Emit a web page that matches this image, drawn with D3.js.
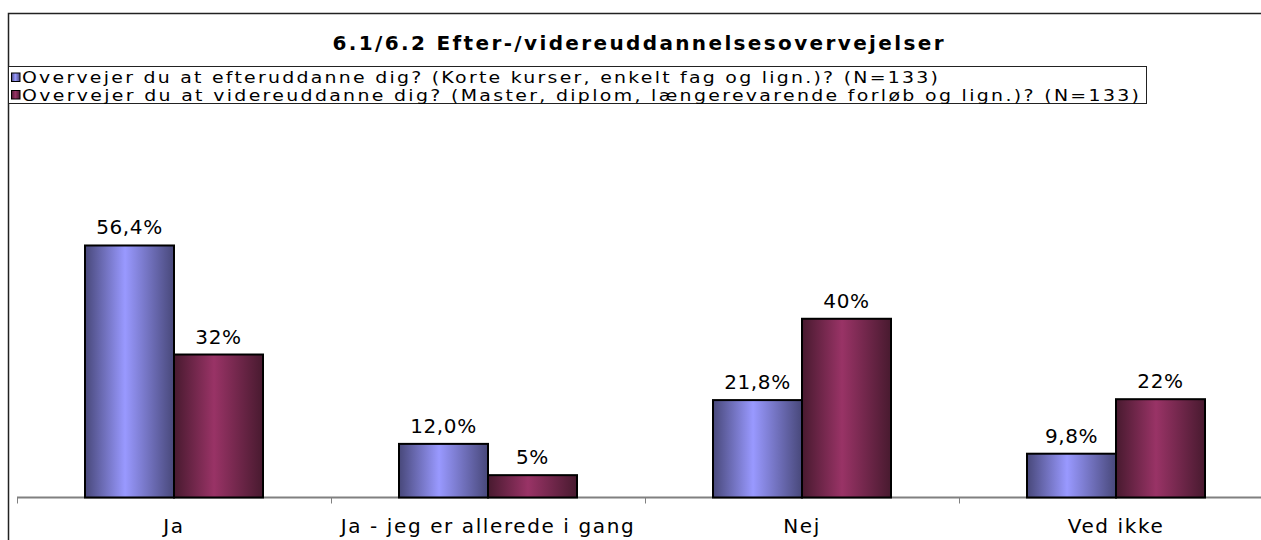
<!DOCTYPE html>
<html><head><meta charset="utf-8">
<script src="https://cdn.jsdelivr.net/npm/d3@7/dist/d3.min.js"></script>
<style>body{margin:0;background:#fff}svg{display:block}</style>
</head><body>
<svg id="c" width="1261" height="540"></svg>
<script>
const categories = ["Ja", "Ja - jeg er allerede i gang", "Nej", "Ved ikke"];
const seriesNames = [
  "Overvejer du at efteruddanne dig? (Korte kurser, enkelt fag og lign.)? (N=133)",
  "Overvejer du at videreuddanne dig? (Master, diplom, længerevarende forløb og lign.)? (N=133)"
];
const efterValues = [56.4, 12.0, 21.8, 9.8];
const efterLabels = ["56,4%", "12,0%", "21,8%", "9,8%"];
const videreValues = [32, 5, 40, 22];
const videreLabels = ["32%", "5%", "40%", "22%"];
const title = "6.1/6.2 Efter-/videreuddannelsesovervejelser";

const svg = d3.select("#c");
const font = "DejaVu Sans, Verdana, sans-serif";

const defs = svg.append("defs");
const grads = [
  {id: "gBlue", dark: "#48487a", light: "#9999ff"},
  {id: "gRed", dark: "#481a2f", light: "#993366"}
];
grads.forEach(g => {
  const lg = defs.append("linearGradient").attr("id", g.id).attr("x1", "0").attr("x2", "1").attr("y1", "0").attr("y2", "0");
  lg.append("stop").attr("offset", "0%").attr("stop-color", g.dark);
  lg.append("stop").attr("offset", "45%").attr("stop-color", g.light);
  lg.append("stop").attr("offset", "100%").attr("stop-color", g.dark);
});

// outer frame (extends beyond the visible area)
svg.append("rect").attr("x", 8.5).attr("y", 13.5).attr("width", 1300).attr("height", 600)
  .attr("fill", "none").attr("stroke", "#222").attr("stroke-width", 1.5);

// title
svg.append("text").attr("x", 638).attr("y", 50).attr("text-anchor", "middle")
  .attr("font-family", font).attr("font-weight", "bold").attr("font-size", 20).attr("fill", "#000")
  .attr("textLength", 611).attr("lengthAdjust", "spacing")
  .text(title);

// legend
svg.append("rect").attr("x", 8.5).attr("y", 66.5).attr("width", 1138).attr("height", 37)
  .attr("fill", "#fff").attr("stroke", "#222").attr("stroke-width", 1);
const legendWidths = [916, 1117];
const legendStretch = 1.22;
const legend = svg.append("g");
seriesNames.forEach((s, i) => {
  const base = 83 + i * 17.5;
  legend.append("rect").attr("x", 11.5).attr("y", base - 10).attr("width", 8.5).attr("height", 8.5)
    .attr("fill", i === 0 ? "url(#gBlue)" : "url(#gRed)").attr("stroke", "#000").attr("stroke-width", 1);
  legend.append("text").attr("transform", `translate(22,${base}) scale(${legendStretch},1)`)
    .attr("font-family", font).attr("font-size", 15.5).attr("fill", "#000")
    .attr("textLength", legendWidths[i] / legendStretch).attr("lengthAdjust", "spacing").text(s);
});

// scales
const x = d3.scaleBand().domain(categories).range([17, 1273]).paddingInner(0).paddingOuter(0);
const groupW = 178;
const x1 = d3.scaleBand().domain([0, 1]).range([0, groupW]);
const y = d3.scaleLinear().domain([0, 60]).range([497.5, 229.4]);

// axis line and ticks
const axisY = 497.5;
const ax = svg.append("g");
ax.append("line").attr("x1", x.range()[0]).attr("x2", x.range()[1]).attr("y1", axisY).attr("y2", axisY)
  .attr("stroke", "#808080").attr("stroke-width", 2);
const bounds = categories.map(c => x(c)).concat([x.range()[1]]);
ax.selectAll("line.t").data(bounds).join("line").attr("class", "t")
  .attr("x1", d => d + 0.5).attr("x2", d => d + 0.5).attr("y1", axisY).attr("y2", axisY + 6)
  .attr("stroke", "#808080").attr("stroke-width", 1);

// bars
const series = [
  {vals: efterValues, labels: efterLabels, fill: "url(#gBlue)"},
  {vals: videreValues, labels: videreLabels, fill: "url(#gRed)"}
];
series.forEach((s, si) => {
  const g = svg.append("g");
  g.selectAll("rect").data(categories).join("rect")
    .attr("x", (c) => x(c) + (x.bandwidth() - groupW) / 2 + x1(si))
    .attr("y", (c, i) => y(s.vals[i]))
    .attr("width", x1.bandwidth())
    .attr("height", (c, i) => y(0) - y(s.vals[i]))
    .attr("fill", s.fill).attr("stroke", "#000").attr("stroke-width", 2);
  g.selectAll("text").data(categories).join("text")
    .attr("x", (c) => x(c) + (x.bandwidth() - groupW) / 2 + x1(si) + x1.bandwidth() / 2)
    .attr("y", (c, i) => y(s.vals[i]) - 11)
    .attr("text-anchor", "middle").attr("font-family", font).attr("font-size", 20)
    .attr("letter-spacing", 0.6).attr("fill", "#000")
    .text((c, i) => s.labels[i]);
});

// category labels
svg.append("g").selectAll("text").data(categories).join("text")
  .attr("x", c => x(c) + x.bandwidth() / 2).attr("y", 533)
  .attr("text-anchor", "middle").attr("font-family", font).attr("font-size", 20)
  .attr("letter-spacing", 1.6).attr("fill", "#000")
  .text(c => c);
</script>
</body></html>
